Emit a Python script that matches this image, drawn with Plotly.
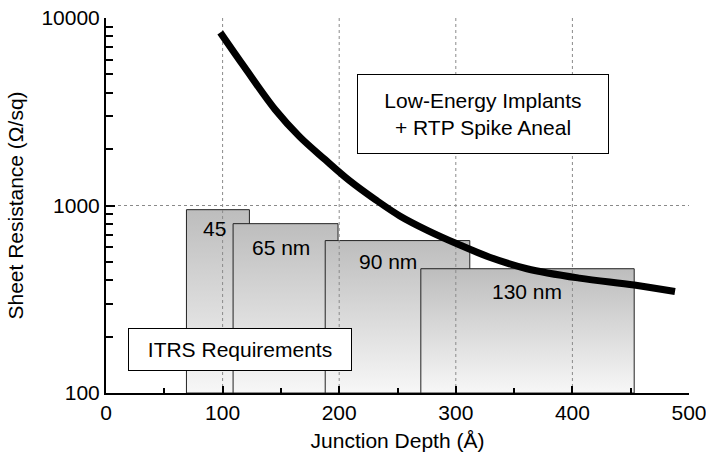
import math
import plotly.graph_objects as go

# ITRS technology-node windows: junction-depth span (Å) and max sheet resistance (Ω/sq)
node_labels = ["45", "65 nm", "90 nm", "130 nm"]
node_depth_min = [69, 109, 188, 270]
node_depth_max = [123, 199, 312, 453]
node_rs_max = [950, 800, 650, 460]
node_label_x = [93, 150, 242, 361]
node_label_y = [756, 600, 501, 348]

# Low-energy implant + RTP spike anneal trend
curve_depth = [98, 119, 145, 166, 188, 209, 231, 252, 276, 301, 329, 361, 406, 453, 488]
curve_rs = [8370, 5440, 3250, 2330, 1755, 1355, 1075, 880, 735, 625, 530, 460, 410, 377, 348]

# Axis ticks and dotted grid
x_ticks = [0, 100, 200, 300, 400, 500]
y_ticks = [100, 1000, 10000]
y_tick_text = ["100", "1000", "10000"]
y_minor = [200, 300, 400, 500, 600, 700, 800, 900,
           2000, 3000, 4000, 5000, 6000, 7000, 8000, 9000]
grid_x = [100, 200, 300, 400]
grid_y = [1000]

X_RANGE = [0, 500]
Y_MIN, Y_MAX = 100, 10000

FONT = "Liberation Sans, Arial, Helvetica, sans-serif"

fig = go.Figure()

# Node boxes, each filled with a light vertical gradient
for lo, hi, top in zip(node_depth_min, node_depth_max, node_rs_max):
    fig.add_trace(go.Scatter(
        x=[lo, lo, hi, hi, lo],
        y=[Y_MIN, top, top, Y_MIN, Y_MIN],
        mode="lines",
        fill="toself",
        fillgradient=dict(type="vertical",
                          colorscale=[[0, "#f7f7f7"], [1, "#bdbdbd"]]),
        line=dict(color="#222222", width=1),
        hoverinfo="skip",
    ))

# Dotted grid drawn over the boxes
for gx in grid_x:
    fig.add_trace(go.Scatter(
        x=[gx, gx], y=[Y_MIN, Y_MAX], mode="lines",
        line=dict(color="#8a8a8a", width=1, dash="dot"),
        hoverinfo="skip",
    ))
for gy in grid_y:
    fig.add_trace(go.Scatter(
        x=X_RANGE, y=[gy, gy], mode="lines",
        line=dict(color="#8a8a8a", width=1, dash="dot"),
        hoverinfo="skip",
    ))

# Trend curve
fig.add_trace(go.Scatter(
    x=curve_depth, y=curve_rs, mode="lines",
    line=dict(color="black", width=7, shape="spline", smoothing=1.0),
    hoverinfo="skip",
))

# Node labels (annotation y on a log axis is given in log10 units)
for txt, lx, ly in zip(node_labels, node_label_x, node_label_y):
    fig.add_annotation(x=lx, y=math.log10(ly), xref="x", yref="y", text=txt,
                       showarrow=False, font=dict(family=FONT, size=21, color="black"))

# Boxed captions
fig.add_annotation(x=115.3, y=math.log10(170), xref="x", yref="y",
                   text="ITRS Requirements", showarrow=False,
                   font=dict(family=FONT, size=21, color="black"),
                   bgcolor="white", bordercolor="black", borderwidth=1,
                   borderpad=0, width=222, height=41)
fig.add_annotation(x=323, y=math.log10(3090), xref="x", yref="y",
                   text="Low-Energy Implants<br>+ RTP Spike Aneal", showarrow=False,
                   font=dict(family=FONT, size=21, color="black"),
                   bgcolor="white", bordercolor="black", borderwidth=1,
                   borderpad=0, width=250, height=78)

fig.update_layout(
    width=706, height=452,
    margin=dict(l=106, r=17, t=18, b=59),
    paper_bgcolor="white", plot_bgcolor="white",
    showlegend=False, hovermode=False,
    font=dict(family=FONT, size=21, color="black"),
    xaxis=dict(
        range=X_RANGE, tickvals=x_ticks, showgrid=False, zeroline=False,
        automargin=False, ticklabeloverflow="allow",
        showline=True, linecolor="black", linewidth=2,
        ticks="inside", ticklen=7, tickwidth=1.5, tickcolor="black",
        tickfont=dict(family=FONT, size=21, color="black"),
        minor=dict(dtick=50, tick0=0, ticks="inside", ticklen=5,
                   tickwidth=1.5, tickcolor="black", showgrid=False),
        title=dict(text="Junction Depth (Å)", standoff=12,
                   font=dict(family=FONT, size=21, color="black")),
    ),
    yaxis=dict(
        type="log", range=[2, 4], tickvals=y_ticks, ticktext=y_tick_text,
        showgrid=False, zeroline=False,
        automargin=False, ticklabeloverflow="allow",
        showline=True, linecolor="black", linewidth=2,
        ticks="inside", ticklen=9, tickwidth=1.5, tickcolor="black",
        tickfont=dict(family=FONT, size=21, color="black"),
        minor=dict(tickmode="array", tickvals=y_minor, ticks="inside",
                   ticklen=7, tickwidth=1.5, tickcolor="black", showgrid=False),
        title=dict(text="Sheet Resistance (Ω/sq)", standoff=12,
                   font=dict(family=FONT, size=21, color="black")),
    ),
)

fig.write_html("out.html")
